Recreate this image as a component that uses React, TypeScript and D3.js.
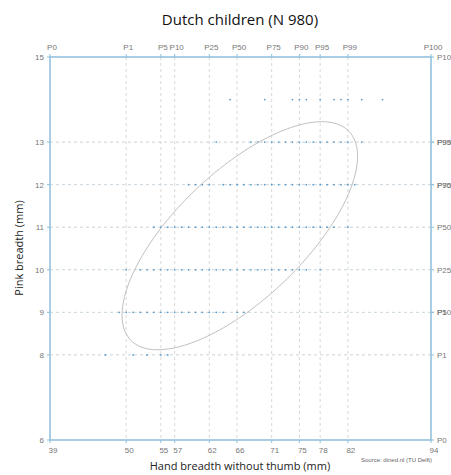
import React, { useEffect, useRef } from 'react';
import * as d3 from 'd3';

// x: hand breadth without thumb (mm), percentile values
const xPercentiles = ['P0', 'P1', 'P5', 'P10', 'P25', 'P50', 'P75', 'P90', 'P95', 'P99', 'P100'];
const xValues = [39, 50, 55, 57, 62, 66, 71, 75, 78, 82, 94];
// y: pink breadth (mm), percentile values
const yPercentiles = ['P0', 'P1', 'P5', 'P10', 'P25', 'P50', 'P75', 'P90', 'P95', 'P99', 'P100'];
const yValues = [6, 8, 9, 9, 10, 11, 12, 12, 13, 13, 15];

// observed measurements, one row per pink breadth value
const rowY = [14, 13, 12, 11, 10, 9, 8];
const rowX = [
  [65, 70, 74, 75, 76, 78, 80, 81, 82, 84, 87],
  [63, 68, 69, 70, 71, 72, 73, 74, 75, 76, 77, 78, 79, 80, 81, 82, 84],
  [59, 60, 61, 62, 64, 65, 66, 67, 68, 69, 70, 71, 72, 73, 74, 75, 76, 77, 78, 79, 80, 81, 82, 83],
  [54, 55, 56, 57, 58, 59, 60, 61, 62, 63, 64, 65, 66, 67, 68, 69, 70, 71, 72, 73, 74, 75, 76, 77, 78, 79, 80, 82],
  [50, 52, 53, 54, 55, 56, 57, 58, 59, 60, 61, 62, 63, 64, 65, 66, 67, 68, 69, 70, 71, 72, 73, 74, 75, 76, 78],
  [49, 50, 51, 52, 53, 54, 55, 56, 57, 58, 59, 60, 61, 62, 63, 64, 66, 67],
  [47, 51, 53, 55, 56],
];

// 90% ellipse: centre, half widths (mm) and phase
const ellipseCenter = [66.4, 10.8];
const ellipseRadii = [17.0, 2.68];
const ellipsePhase = 0.8;

export default function App() {
  const ref = useRef<SVGSVGElement>(null);

  useEffect(() => {
    const svg = d3.select(ref.current);
    svg.selectAll('*').remove();

    const left = 50, right = 431, top = 57, bottom = 440;
    const x = d3.scaleLinear().domain([39, 94]).range([left, right]);
    const y = d3.scaleLinear().domain([6, 15]).range([bottom, top]);
    const axisBlue = '#8dbfdc';
    const tickGray = '#777';
    const font = 'Liberation Sans, Arial, sans-serif';

    // title
    svg.append('text')
      .attr('x', 240).attr('y', 25)
      .attr('text-anchor', 'middle')
      .attr('font-family', 'Open Sans, sans-serif')
      .attr('font-size', 15)
      .attr('fill', '#111')
      .text('Dutch children (N 980)');

    const grid = svg.append('g');
    // vertical grid
    grid.selectAll('.vx')
      .data(xValues.slice(1, -1))
      .enter()
      .append('line')
      .attr('x1', d => x(d)).attr('x2', d => x(d))
      .attr('y1', top).attr('y2', bottom)
      .attr('stroke', '#d8d8d8')
      .attr('stroke-dasharray', '3,3');
    // horizontal grid
    grid.selectAll('.hy')
      .data(Array.from(new Set(yValues.slice(1, -1))))
      .enter()
      .append('line')
      .attr('x1', left).attr('x2', right)
      .attr('y1', d => y(d)).attr('y2', d => y(d))
      .attr('stroke', '#c8d5de')
      .attr('stroke-dasharray', '3,3');

    // points
    const pts = rowY.flatMap((yy, i) => rowX[i].map(xx => [xx, yy]));
    svg.append('g').selectAll('circle')
      .data(pts)
      .enter()
      .append('circle')
      .attr('cx', d => x(d[0]))
      .attr('cy', d => y(d[1]))
      .attr('r', 0.9)
      .attr('fill', '#5a9ccb');

    // ellipse
    const ts = d3.range(0, Math.PI * 2, Math.PI / 90);
    const line = d3.line<number>()
      .x(t => x(ellipseCenter[0] + ellipseRadii[0] * Math.cos(t)))
      .y(t => y(ellipseCenter[1] + ellipseRadii[1] * Math.cos(t - ellipsePhase)))
      .curve(d3.curveCardinalClosed);
    svg.append('path')
      .attr('d', line(ts))
      .attr('fill', 'none')
      .attr('stroke', '#c0c0c0')
      .attr('stroke-width', 1);

    // frame
    svg.append('rect')
      .attr('x', left).attr('y', top)
      .attr('width', right - left).attr('height', bottom - top)
      .attr('fill', 'none')
      .attr('stroke', axisBlue)
      .attr('stroke-width', 1.5);

    const tickText = (g, tx, ty, anchor, text) => {
      g.append('text')
        .attr('x', tx).attr('y', ty)
        .attr('text-anchor', anchor)
        .attr('font-family', font)
        .attr('font-size', 8)
        .attr('fill', tickGray)
        .text(text);
    };

    const ticks = svg.append('g');
    // bottom ticks
    xValues.forEach(v => {
      ticks.append('line').attr('x1', x(v)).attr('x2', x(v))
        .attr('y1', bottom).attr('y2', bottom + 3).attr('stroke', axisBlue);
      tickText(ticks, x(v) + 3, bottom + 13, 'middle', String(v));
    });
    // top percentile ticks
    xValues.forEach((v, i) => {
      ticks.append('line').attr('x1', x(v)).attr('x2', x(v))
        .attr('y1', top - 3).attr('y2', top).attr('stroke', axisBlue);
      tickText(ticks, x(v) + 2, top - 7, 'middle', xPercentiles[i]);
    });
    // left ticks
    Array.from(new Set(yValues)).forEach(v => {
      ticks.append('line').attr('x1', left - 3).attr('x2', left)
        .attr('y1', y(v)).attr('y2', y(v)).attr('stroke', axisBlue);
      tickText(ticks, left - 6, y(v) + 3, 'end', String(v));
    });
    // right percentile ticks
    yValues.forEach((v, i) => {
      ticks.append('line').attr('x1', right).attr('x2', right + 3)
        .attr('y1', y(v)).attr('y2', y(v)).attr('stroke', axisBlue);
      tickText(ticks, right + 6, y(v) + 3, 'start', yPercentiles[i]);
    });

    // axis titles
    svg.append('text')
      .attr('x', 240).attr('y', 470)
      .attr('text-anchor', 'middle')
      .attr('font-family', 'Open Sans, sans-serif')
      .attr('font-size', 11)
      .attr('fill', '#222')
      .text('Hand breadth without thumb (mm)');
    svg.append('text')
      .attr('transform', 'translate(23,248) rotate(-90)')
      .attr('text-anchor', 'middle')
      .attr('font-family', 'Open Sans, sans-serif')
      .attr('font-size', 11)
      .attr('fill', '#222')
      .text('Pink breadth (mm)');
    svg.append('text')
      .attr('x', 432).attr('y', 462)
      .attr('text-anchor', 'end')
      .attr('font-family', font)
      .attr('font-size', 6)
      .attr('fill', '#666')
      .text('Source: dined.nl (TU Delft)');
  }, []);

  return (
    <svg ref={ref} width={451} height={475}
      style={{ position: 'absolute', left: 0, top: 0, background: '#fff' }} />
  );
}
